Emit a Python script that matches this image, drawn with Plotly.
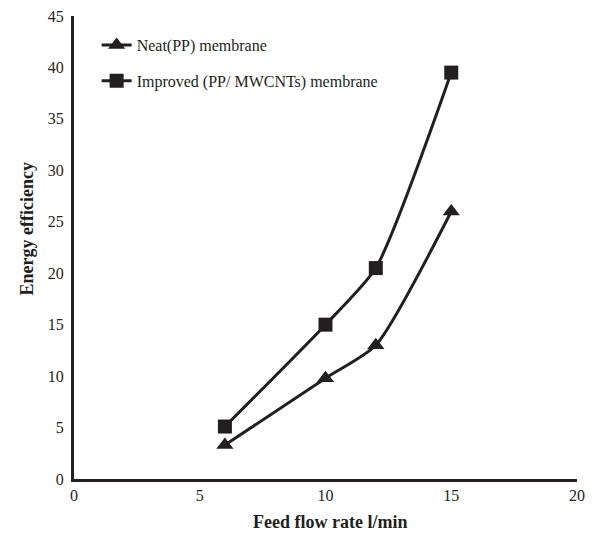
import plotly.graph_objects as go

flow = [6, 10, 12, 15]
neat = [3.3, 9.8, 13.0, 26.0]
improved = [5.1, 15.0, 20.5, 39.5]
x_ticks = [0, 5, 10, 15, 20]
y_ticks = [0, 5, 10, 15, 20, 25, 30, 35, 40, 45]

col = "#231f20"
font = "Liberation Serif, Times New Roman, serif"

fig = go.Figure()
fig.add_trace(go.Scatter(x=flow, y=neat, mode="lines+markers", name="Neat(PP) membrane",
                         line=dict(color=col, width=3, shape="spline", smoothing=0.6),
                         marker=dict(symbol="triangle-up", size=15, color=col),
                         legendgroup="a"))
fig.add_trace(go.Scatter(x=flow, y=improved, mode="lines+markers", name="Improved (PP/ MWCNTs) membrane",
                         line=dict(color=col, width=3, shape="spline", smoothing=0.6),
                         marker=dict(symbol="square", size=14, color=col),
                         legendgroup="b"))

fig.update_layout(
    template="none",
    width=592, height=535,
    margin=dict(l=74, r=15, t=16, b=56),
    paper_bgcolor="white", plot_bgcolor="white",
    font=dict(family=font, size=16, color=col),
    showlegend=True,
    legend=dict(x=0.045, y=0.974, xanchor="left", yanchor="top",
                font=dict(family=font, size=16, color=col),
                bgcolor="rgba(0,0,0,0)", tracegroupgap=12),
    xaxis=dict(range=[0, 20], tickvals=x_ticks, showgrid=False, zeroline=False,
               showline=True, linecolor=col, linewidth=3, ticks="", automargin=False,
               tickfont=dict(family=font, size=16)),
    yaxis=dict(range=[0, 45], tickvals=y_ticks, showgrid=False, zeroline=False,
               showline=True, linecolor=col, linewidth=3, ticks="", automargin=False,
               ticklabelstandoff=4,
               tickfont=dict(family=font, size=16)),
    annotations=[
        dict(text="<b>Feed flow rate l/min</b>", xref="paper", yref="paper",
             x=0.509, y=-0.0927, xanchor="center", yanchor="middle", showarrow=False,
             font=dict(family=font, size=18, color=col)),
        dict(text="<b>Energy efficiency</b>", xref="paper", yref="paper",
             x=-0.0934, y=0.539, xanchor="center", yanchor="middle", showarrow=False,
             textangle=-90, font=dict(family=font, size=18, color=col)),
    ],
)

fig.write_html("out.html", config={"displayModeBar": False},
               post_script="document.body.style.margin='0';")
